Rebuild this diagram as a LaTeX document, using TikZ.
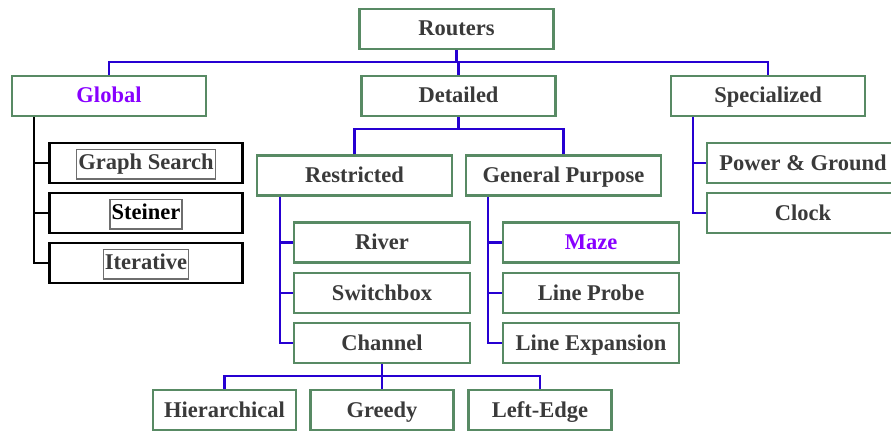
\documentclass[tikz,border=0pt]{standalone}
\usepackage{fontspec}
\setmainfont{Liberation Serif}
\usetikzlibrary{calc}
\definecolor{boxgreen}{RGB}{88,138,100}
\definecolor{linkblue}{RGB}{38,0,210}
\definecolor{txtgray}{RGB}{58,58,58}
\definecolor{hipurple}{RGB}{136,0,255}
\definecolor{framegray}{RGB}{110,110,110}
\newcommand{\gframe}[1]{{\setlength{\fboxsep}{1pt}\setlength{\fboxrule}{1.2pt}\fcolorbox{framegray}{white}{\strut #1}}}
\begin{document}
\begin{tikzpicture}[x=1pt,y=-1pt,
  every node/.style={font=\fontsize{22.5}{26}\selectfont\bfseries, text=txtgray, inner sep=0pt, text height=16pt, text depth=2pt},
  gbox/.style={draw=boxgreen, line width=2.2pt, fill=white, minimum width=194pt, minimum height=40pt},
  kbox/.style={draw=black, line width=2.4pt, fill=white, minimum width=193pt, minimum height=40pt},
  cbox/.style={draw=boxgreen, line width=2.2pt, fill=white, minimum width=143pt, minimum height=40pt},
  bl/.style={draw=linkblue, line width=2.4pt},
  blk/.style={draw=black, line width=2.4pt}]
\clip (0,0) rectangle (891,433);
\fill[white] (0,0) rectangle (891,433);
% level 0/1
\node[gbox] (routers) at (456.5,29) {Routers};
\node[gbox, text=hipurple] (global) at (109,96) {Global};
\node[gbox] (detailed) at (458.5,96) {Detailed};
\node[gbox] (special) at (768,96) {Specialized};
% global children
\node[kbox, text height=20pt, text depth=7pt] (graph) at (146,163) {\gframe{Graph Search}};
\node[kbox, text height=20pt, text depth=7pt] (steiner) at (146,213) {\gframe{\textcolor{black}{Steiner}}};
\node[kbox, text height=20pt, text depth=7pt] (iter) at (146,263) {\gframe{Iterative}};
% detailed children
\node[gbox, minimum width=195pt] (restricted) at (354.5,175.5) {Restricted};
\node[gbox, minimum width=195pt] (general) at (563.5,175.5) {General Purpose};
\node[gbox, minimum width=176pt] (river) at (382,242.5) {River};
\node[gbox, minimum width=176pt] (switch) at (382,293) {Switchbox};
\node[gbox, minimum width=176pt] (channel) at (382,343) {Channel};
\node[gbox, minimum width=176pt, text=hipurple] (maze) at (591,242.5) {Maze};
\node[gbox, minimum width=176pt] (probe) at (591,293) {Line Probe};
\node[gbox, minimum width=176pt] (expand) at (591,343) {Line Expansion};
% specialized children
\node[gbox, minimum width=192pt] (power) at (803,163) {Power \& Ground};
\node[gbox, minimum width=192pt] (clock) at (803,213) {Clock};
% channel children
\node[cbox] (hier) at (224.5,410) {Hierarchical};
\node[cbox] (greedy) at (382,410) {Greedy};
\node[cbox] (left) at (540,410) {Left-Edge};
% buses
\coordinate (bus1) at (456.5,62);
\coordinate (bus2) at (458.5,129);
\coordinate (bus3) at (383,376);
\draw[bl] (routers.south) -- (routers.south |- bus1);
\draw[bl] (global.north) |- (bus1) -| (special.north);
\draw[bl] (detailed.north) -- (detailed.north |- bus1);
\draw[bl] (detailed.south) -- (detailed.south |- bus2);
\draw[bl] (restricted.north) |- (bus2) -| (general.north);
\draw[bl] (channel.south) -- (channel.south |- bus3);
\draw[bl] (hier.north) |- (bus3) -| (left.north);
\draw[bl] (greedy.north) -- (greedy.north |- bus3);
% trunks
\coordinate (gt) at ($(global.south west)+(23,0)$);
\draw[blk] (gt) |- (iter.west);
\draw[blk] (gt |- graph.west) -- (graph.west);
\draw[blk] (gt |- steiner.west) -- (steiner.west);
\coordinate (rt) at ($(restricted.south west)+(24,0)$);
\draw[bl] (rt) |- (channel.west);
\draw[bl] (rt |- river.west) -- (river.west);
\draw[bl] (rt |- switch.west) -- (switch.west);
\coordinate (pt) at ($(general.south west)+(23,0)$);
\draw[bl] (pt) |- (expand.west);
\draw[bl] (pt |- maze.west) -- (maze.west);
\draw[bl] (pt |- probe.west) -- (probe.west);
\coordinate (st) at ($(special.south west)+(23,0)$);
\draw[bl] (st) |- (clock.west);
\draw[bl] (st |- power.west) -- (power.west);
\end{tikzpicture}
\end{document}
